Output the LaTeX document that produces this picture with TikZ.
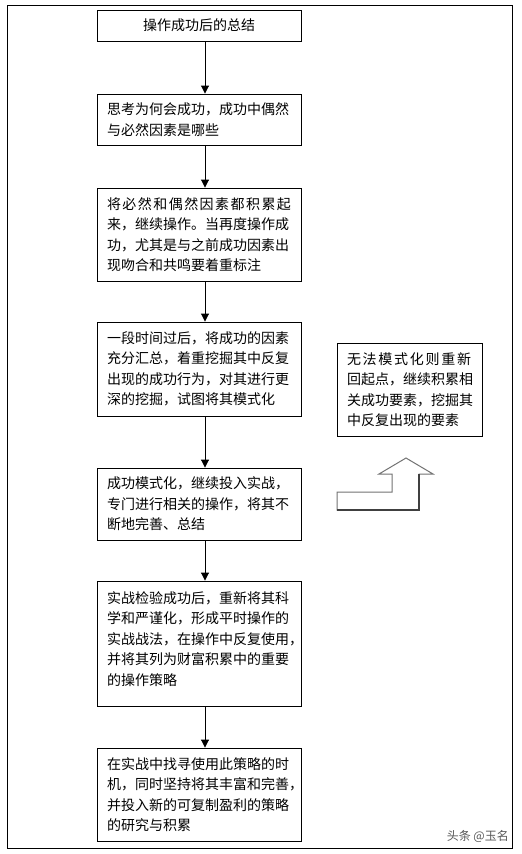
\documentclass[tikz,border=0pt]{standalone}
\usepackage{fontspec}
\newfontfamily\cjk{Noto Sans CJK SC}
\usetikzlibrary{arrows.meta,calc}
\begin{document}
\begin{tikzpicture}[x=1pt,y=-1pt,
  stepbox/.style={draw=black,line width=0.9pt,fill=white,inner xsep=10pt,inner ysep=0pt,
    text width=184pt,align=left,minimum width=204pt,
    font=\cjk\fontsize{14}{20.5}\selectfont},
  sidebox/.style={stepbox,text width=125pt,minimum width=145pt},
  flow/.style={draw=black,line width=0.9pt,-{Triangle[length=8pt,width=8pt]}},
  blockarrow/.style={draw=black!55,line width=1pt,line join=miter}]
\useasboundingbox (0,0) rectangle (522,854);
\fill[white] (0,0) rectangle (522,854);
\node[draw=black,line width=0.8pt,minimum width=505pt,minimum height=843pt,inner sep=0pt] (frame) at (259.5,426.5) {};
\coordinate (ax) at (205,0);
\node[stepbox,minimum height=31pt,align=center] (b1) at (199,25.5) {操作成功后的总结};
\node[stepbox,minimum height=51pt] (b2) at (199,119.5) {思考为何会成功，成功中偶然\\与必然因素是哪些};
\node[stepbox,minimum height=93pt] (b3) at (199,234.5) {\makebox[184pt][l]{将\hfill 必\hfill 然\hfill 和\hfill 偶\hfill 然\hfill 因\hfill 素\hfill 都\hfill 积\hfill 累\hfill 起}\\来，继续操作。当再度操作成\\功，尤其是与之前成功因素出\\现吻合和共鸣要着重标注};
\node[stepbox,minimum height=94pt] (b4) at (199,369) {一段时间过后，将成功的因素\\充分汇总，着重挖掘其中反复\\出现的成功行为，对其进行更\\深的挖掘，试图将其模式化};
\node[stepbox,minimum height=72pt] (b5) at (199,504) {成功模式化，继续投入实战，\\专门进行相关的操作，将其不\\断地完善、总结};
\node[stepbox,minimum height=125pt] (b6) at (199,643.5) {实战检验成功后，重新将其科\\学和严谨化，形成平时操作的\\实战战法，在操作中反复使用，\\并将其列为财富积累中的重要\\的操作策略\\[-10pt]\mbox{}};
\node[stepbox,minimum height=93pt] (b7) at (199,794.5) {在实战中找寻使用此策略的时\\机，同时坚持将其丰富和完善，\\并投入新的可复制盈利的策略\\的研究与积累};
\node[sidebox,minimum height=93pt] (r) at (409.5,389.5) {\makebox[124pt][l]{无\hfill 法\hfill 模\hfill 式\hfill 化\hfill 则\hfill 重\hfill 新}\\回起点，继续积累相\\关成功要素，挖掘其\\中反复出现的要素};
\draw[flow] (b1.south -| ax) -- (b2.north -| ax);
\draw[flow] (b2.south -| ax) -- (b3.north -| ax);
\draw[flow] (b3.south -| ax) -- (b4.north -| ax);
\draw[flow] (b4.south -| ax) -- (b5.north -| ax);
\draw[flow] (b5.south -| ax) -- (b6.north -| ax);
\draw[flow] (b6.south -| ax) -- (b7.north -| ax);
\draw[blockarrow] (337,492) -- (392,492) -- (392,474) -- (379,474) -- (406,458) -- (433,474) -- (419,474) -- (419,510) -- (337,510) -- cycle;
\draw[black!75,line width=1.2pt] (337,510) -- (419,510) -- (419,474);
\node[font=\cjk\fontsize{12}{12}\selectfont,text=black!65,anchor=east,inner sep=0pt] (wm) at (509,836) {头条 @玉名};
\end{tikzpicture}
\end{document}
